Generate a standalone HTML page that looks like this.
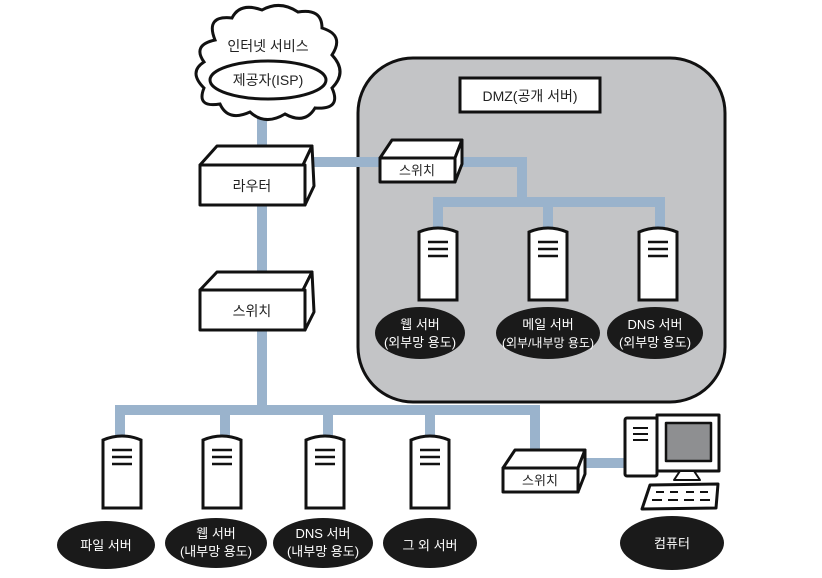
<!DOCTYPE html>
<html><head><meta charset="utf-8"><style>
html,body{margin:0;padding:0;background:#fff}
svg{display:block}
text{font-family:"Liberation Sans","Noto Sans CJK KR",sans-serif;}
</style></head><body>
<svg width="822" height="578" viewBox="0 0 822 578" xmlns="http://www.w3.org/2000/svg">
<defs>
<g id="srv">
<path d="M-19,2 Q0,-6 19,2 L19,70 L-19,70 Z" fill="#fff" stroke="#111" stroke-width="3"/>
<line x1="-10" y1="12" x2="10" y2="12" stroke="#111" stroke-width="2.5"/>
<line x1="-10" y1="19" x2="10" y2="19" stroke="#111" stroke-width="2.5"/>
<line x1="-10" y1="26" x2="10" y2="26" stroke="#111" stroke-width="2.5"/>
</g>
</defs>
<!-- DMZ box -->
<rect x="358" y="58" width="367" height="344" rx="55" fill="#c3c4c6" stroke="#111" stroke-width="3"/>
<rect x="460" y="78" width="140" height="34" fill="#fff" stroke="#111" stroke-width="3"/>
<text x="530" y="101" font-size="14" text-anchor="middle" fill="#222">DMZ(공개 서버)</text>

<!-- blue links -->
<g stroke="#9ab3cc" stroke-width="10" fill="none">
<line x1="262" y1="95" x2="262" y2="160"/>
<line x1="262" y1="200" x2="262" y2="285"/>
<polyline points="262,320 262,410 120,410 120,440"/>
<polyline points="262,410 535,410 535,460"/>
<line x1="225" y1="410" x2="225" y2="440"/>
<line x1="328" y1="410" x2="328" y2="440"/>
<line x1="430" y1="410" x2="430" y2="440"/>
<line x1="310" y1="162" x2="380" y2="162"/>
<polyline points="455,162 522,162 522,202"/>
<polyline points="438,232 438,202 660,202 660,232"/>
<line x1="548" y1="202" x2="548" y2="232"/>
<line x1="580" y1="463" x2="628" y2="463"/>
</g>

<!-- cloud -->
<path d="M215,40 Q205,15 232,18 Q240,2 262,10 Q280,0 298,12 Q322,8 322,28 Q345,35 332,55 Q348,72 332,88 Q342,110 315,108 Q305,125 285,114 Q265,126 250,112 Q228,122 220,104 Q196,108 204,88 Q188,72 204,62 Q192,45 215,40 Z" fill="#fff" stroke="#111" stroke-width="3"/>
<ellipse cx="268" cy="80" rx="58" ry="19" fill="#fff" stroke="#111" stroke-width="3"/>
<text x="268" y="51" font-size="14" text-anchor="middle" fill="#222">인터넷 서비스</text>
<text x="268" y="85" font-size="14" text-anchor="middle" fill="#222">제공자(ISP)</text>

<!-- router -->
<g stroke="#111" stroke-width="3" fill="#fff" stroke-linejoin="round">
<polygon points="200,165 217,146 312,146 303,165"/>
<polygon points="303,165 312,146 314,186 305,205"/>
<rect x="200" y="165" width="105" height="40"/>
</g>
<text x="252" y="191" font-size="14" text-anchor="middle" fill="#222">라우터</text>

<!-- switch 2 -->
<g stroke="#111" stroke-width="3" fill="#fff" stroke-linejoin="round">
<polygon points="200,290 217,272 312,272 303,290"/>
<polygon points="303,290 312,272 314,312 305,330"/>
<rect x="200" y="290" width="105" height="40"/>
</g>
<text x="252" y="316" font-size="14" text-anchor="middle" fill="#222">스위치</text>

<!-- DMZ switch -->
<g stroke="#111" stroke-width="3" fill="#fff" stroke-linejoin="round">
<polygon points="380,158 392,140 462,140 455,158"/>
<polygon points="455,158 462,140 462,164 455,182"/>
<rect x="380" y="158" width="75" height="24"/>
</g>
<text x="417" y="175" font-size="13" text-anchor="middle" fill="#222">스위치</text>

<!-- switch 3 -->
<g stroke="#111" stroke-width="3" fill="#fff" stroke-linejoin="round">
<polygon points="503,468 515,450 585,450 578,468"/>
<polygon points="578,468 585,450 585,474 578,492"/>
<rect x="503" y="468" width="75" height="24"/>
</g>
<text x="540" y="485" font-size="13" text-anchor="middle" fill="#222">스위치</text>

<!-- servers DMZ -->
<use href="#srv" x="438" y="230"/>
<use href="#srv" x="548" y="230"/>
<use href="#srv" x="658" y="230"/>
<!-- servers bottom -->
<use href="#srv" x="122" y="438"/>
<use href="#srv" x="222" y="438"/>
<use href="#srv" x="325" y="438"/>
<use href="#srv" x="430" y="438"/>

<!-- labels -->
<g fill="#1a1a1a">
<ellipse cx="420" cy="333" rx="45" ry="26"/>
<ellipse cx="548" cy="333" rx="52" ry="26"/>
<ellipse cx="655" cy="333" rx="48" ry="26"/>
<ellipse cx="106" cy="545" rx="49" ry="24"/>
<ellipse cx="216" cy="543" rx="51" ry="25"/>
<ellipse cx="323" cy="543" rx="50" ry="25"/>
<ellipse cx="430" cy="543" rx="47" ry="25"/>
<ellipse cx="672" cy="543" rx="52" ry="27"/>
</g>
<g fill="#fff" font-size="13" text-anchor="middle">
<text x="420" y="329">웹 서버</text><text x="420" y="347">(외부망 용도)</text>
<text x="548" y="329">메일 서버</text><text x="548" y="347" font-size="12">(외부/내부망 용도)</text>
<text x="655" y="329">DNS 서버</text><text x="655" y="347">(외부망 용도)</text>
<text x="106" y="550">파일 서버</text>
<text x="216" y="538">웹 서버</text><text x="216" y="556">(내부망 용도)</text>
<text x="323" y="538">DNS 서버</text><text x="323" y="556">(내부망 용도)</text>
<text x="430" y="550">그 외 서버</text>
<text x="672" y="548">컴퓨터</text>
</g>

<!-- computer -->
<g stroke="#111" stroke-width="3" stroke-linejoin="round">
<rect x="625" y="418" width="32" height="58" fill="#fff" rx="2"/>
<line x1="633" y1="428" x2="648" y2="428" stroke-width="2"/>
<line x1="633" y1="434" x2="648" y2="434" stroke-width="2"/>
<line x1="633" y1="440" x2="648" y2="440" stroke-width="2"/>
<rect x="657" y="415" width="62" height="56" fill="#fff"/>
<rect x="666" y="423" width="45" height="38" fill="#8e8f91" stroke-width="2.5"/>
<polygon points="680,471 694,471 700,480 674,480" fill="#fff" stroke-width="2"/>
<polygon points="650,485 718,484 716,508 642,509" fill="#fff"/>
<g stroke-width="2"><line x1="656" y1="492" x2="664" y2="492"/><line x1="670" y1="492" x2="678" y2="492"/><line x1="686" y1="492" x2="694" y2="492"/><line x1="700" y1="492" x2="708" y2="492"/>
<line x1="652" y1="500" x2="662" y2="500"/><line x1="668" y1="500" x2="678" y2="500"/><line x1="684" y1="500" x2="694" y2="500"/><line x1="700" y1="500" x2="710" y2="500"/></g>
</g>
</svg>
</body></html>
